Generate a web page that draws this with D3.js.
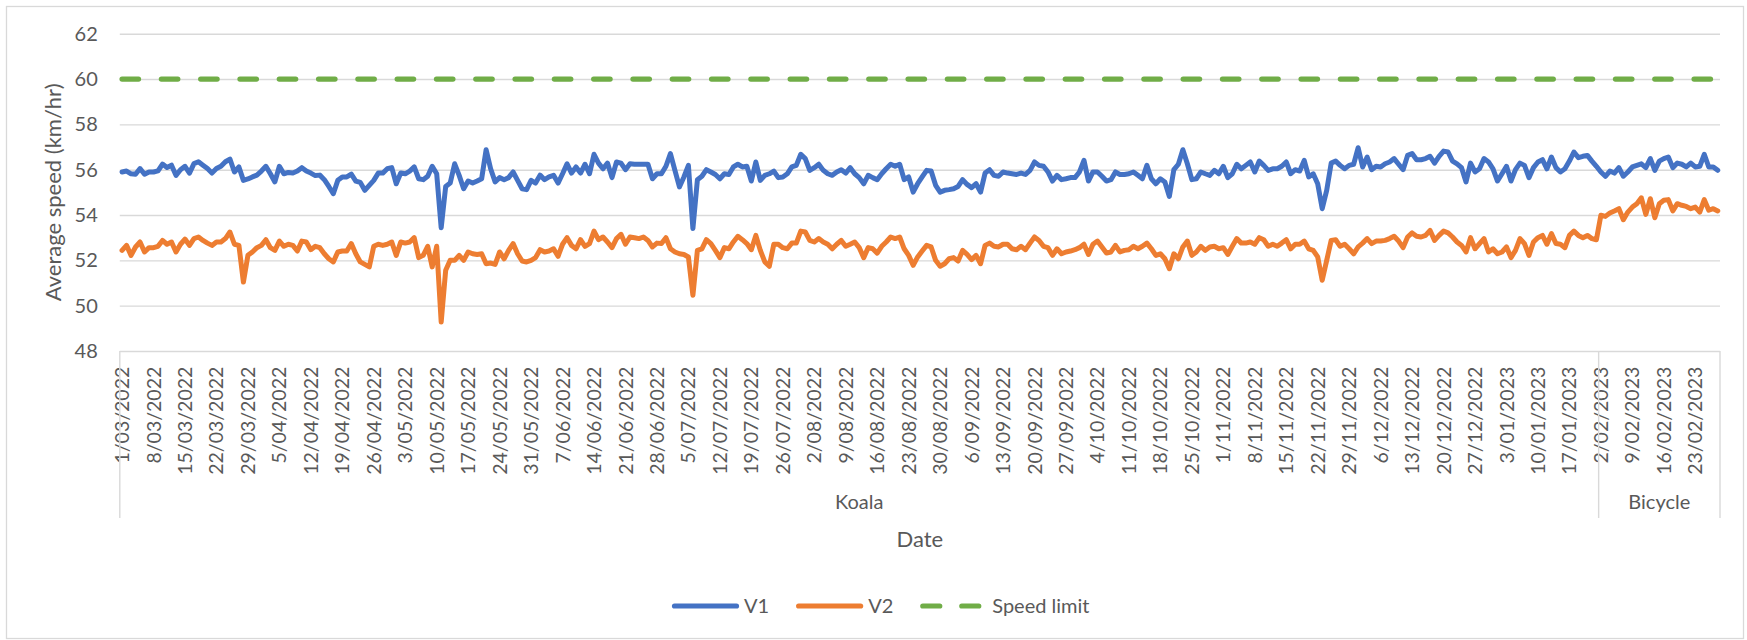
<!DOCTYPE html>
<html>
<head>
<meta charset="utf-8">
<script src="https://cdn.jsdelivr.net/npm/d3@7"></script>
<style>
  html, body { margin: 0; padding: 0; background: #fff; }
  svg text { font-family: Lato, "Open Sans", sans-serif; fill: #595959; }
</style>
</head>
<body>
<div id="chart"></div>
<script>
// Category groups (multi-level axis): one day per category
const groupNames = ["Koala", "Bicycle"];
const groupStarts = ["2022-03-01", "2023-02-02"];
const groupEnds = ["2023-01-23", "2023-02-28"];

const yTicks = [48, 50, 52, 54, 56, 58, 60, 62];
const speedLimit = 60;
const labelEvery = 7;

// Average speed, km/hr, one value per day
const v1 = [
  55.9, 55.94, 55.82, 55.8, 56.05, 55.8, 55.9, 55.9, 55.95, 56.25,
  56.1, 56.2, 55.75, 56.0, 56.15, 55.85, 56.27, 56.35, 56.2, 56.05,
  55.85, 56.05, 56.15, 56.35, 56.47, 55.9, 56.12, 55.53, 55.59, 55.68,
  55.76, 55.94, 56.15, 55.82, 55.46, 56.15, 55.82, 55.88, 55.85, 55.94,
  56.09, 55.94, 55.85, 55.74, 55.76, 55.56, 55.26, 54.94, 55.53, 55.68,
  55.68, 55.8, 55.5, 55.44, 55.09, 55.31, 55.53, 55.85, 55.85, 56.04,
  56.09, 55.38, 55.85, 55.82, 55.94, 56.12, 55.6, 55.56, 55.71, 56.15,
  55.82, 53.44, 55.26, 55.41, 56.26, 55.75, 55.16, 55.5, 55.41, 55.5,
  55.6, 56.88, 56.04, 55.46, 55.65, 55.56, 55.65, 55.9, 55.53, 55.16,
  55.12, 55.53, 55.41, 55.76, 55.56, 55.68, 55.75, 55.41, 55.82, 56.26,
  55.85, 56.12, 55.85, 56.24, 55.82, 56.68, 56.29, 56.04, 56.29, 55.65,
  56.34, 56.29, 56.0, 56.26, 56.24, 56.24, 56.24, 56.24, 55.6, 55.82,
  55.82, 56.15, 56.71, 55.97, 55.24, 55.68, 56.19, 53.4, 55.56, 55.71,
  56.0, 55.9, 55.79, 55.6, 55.82, 55.79, 56.12, 56.24, 56.12, 56.15,
  55.5, 56.34, 55.53, 55.75, 55.82, 55.94, 55.65, 55.68, 55.82, 56.12,
  56.19, 56.68, 56.49, 55.97, 56.09, 56.24, 55.97, 55.82, 55.75, 55.9,
  56.0, 55.85, 56.09, 55.82, 55.65, 55.38, 55.75, 55.65, 55.56, 55.82,
  56.04, 56.24, 56.15, 56.24, 55.56, 55.68, 55.01, 55.38, 55.68, 55.97,
  55.94, 55.31, 55.01, 55.09, 55.12, 55.16, 55.26, 55.56, 55.35, 55.21,
  55.38, 55.01, 55.85, 56.0, 55.75, 55.71, 55.9, 55.85, 55.82, 55.79,
  55.85, 55.79, 55.97, 56.34, 56.19, 56.15, 55.9, 55.5, 55.75, 55.56,
  55.6, 55.65, 55.65, 55.9, 56.41, 55.5, 55.9, 55.9, 55.71, 55.5,
  55.56, 55.9, 55.79, 55.79, 55.82, 55.9, 55.75, 55.6, 56.19, 55.6,
  55.38, 55.6, 55.46, 54.82, 56.0, 56.24, 56.88, 56.26, 55.56, 55.6,
  55.9, 55.82, 55.75, 55.97, 55.82, 56.15, 55.65, 55.82, 56.24, 56.04,
  56.19, 56.34, 55.9, 56.38, 56.19, 55.97, 56.04, 56.04, 56.15, 56.34,
  55.82, 56.0, 55.94, 56.41, 55.68, 55.82, 55.38, 54.28, 55.09, 56.29,
  56.38, 56.19, 56.04, 56.19, 56.24, 56.97, 56.12, 56.56, 56.0, 56.15,
  56.12, 56.26, 56.34, 56.49, 56.24, 56.0, 56.63, 56.71, 56.44, 56.44,
  56.49, 56.59, 56.29, 56.59, 56.82, 56.78, 56.38, 56.26, 56.09, 55.46,
  56.29, 55.9, 56.04, 56.49, 56.34, 56.04, 55.5, 55.82, 56.15, 55.5,
  56.0, 56.29, 56.19, 55.65, 56.09, 56.34, 56.44, 56.04, 56.56, 56.09,
  55.9, 56.04, 56.38, 56.78, 56.53, 56.59, 56.63, 56.38, 56.15, 55.9,
  55.71, 55.94, 55.85, 56.09, 55.71, 55.9, 56.12, 56.19, 56.26, 56.09,
  56.49, 55.97, 56.38, 56.49, 56.56, 56.09, 56.29, 56.24, 56.12, 56.29,
  56.12, 56.15, 56.68, 56.12, 56.12, 55.97
];

const v2 = [
  52.44, 52.66, 52.22, 52.59, 52.81, 52.37, 52.56, 52.56, 52.62, 52.88,
  52.71, 52.81, 52.37, 52.71, 52.94, 52.66, 52.96, 53.03, 52.88, 52.76,
  52.66, 52.81, 52.81, 52.96, 53.25, 52.71, 52.66, 51.04, 52.22, 52.37,
  52.56, 52.66, 52.91, 52.56, 52.44, 52.85, 52.62, 52.71, 52.66, 52.41,
  52.85, 52.81, 52.47, 52.62, 52.56, 52.29, 52.07, 51.93, 52.37, 52.41,
  52.41, 52.74, 52.29, 51.93, 51.82, 51.71, 52.62, 52.71, 52.66, 52.71,
  52.81, 52.22, 52.81, 52.76, 52.81, 53.0, 52.12, 52.22, 52.62, 51.71,
  52.62, 49.28, 51.56, 52.0, 52.0, 52.22, 52.0, 52.37, 52.29, 52.26,
  52.29, 51.85, 51.88, 51.82, 52.37, 52.07, 52.44, 52.74, 52.29, 51.97,
  51.93, 52.0, 52.12, 52.47, 52.37, 52.41, 52.51, 52.18, 52.71, 53.0,
  52.66, 52.51, 52.91, 52.62, 52.74, 53.29, 52.91, 53.03, 52.81, 52.56,
  52.96, 53.15, 52.71, 53.03, 53.0, 52.96, 53.03, 52.88, 52.59, 52.76,
  52.74, 53.0, 52.51, 52.37, 52.29, 52.26, 52.15, 50.46, 52.44, 52.51,
  52.91, 52.74, 52.44, 52.12, 52.56, 52.51, 52.81, 53.06, 52.91, 52.74,
  52.47, 53.1, 52.44, 51.93, 51.74, 52.71, 52.71, 52.56, 52.51, 52.76,
  52.76, 53.29, 53.25, 52.88, 52.81, 52.96, 52.81, 52.71, 52.51, 52.71,
  52.88, 52.62, 52.71, 52.81, 52.56, 52.12, 52.56, 52.51, 52.32, 52.62,
  52.81, 53.03, 52.96, 53.03, 52.51, 52.22, 51.78, 52.15, 52.41, 52.66,
  52.59, 52.0, 51.74, 51.85, 52.07, 52.12, 51.97, 52.44, 52.26, 52.03,
  52.22, 51.85, 52.66, 52.76, 52.62, 52.59, 52.71, 52.71, 52.51, 52.47,
  52.62, 52.47, 52.76, 53.03, 52.88, 52.62, 52.56, 52.22, 52.51, 52.29,
  52.37, 52.41, 52.47, 52.56, 52.71, 52.26, 52.71, 52.85, 52.59, 52.32,
  52.37, 52.66, 52.37, 52.44, 52.47, 52.62, 52.51, 52.62, 52.76, 52.51,
  52.22, 52.29, 52.07, 51.63, 52.29, 52.07, 52.59, 52.85, 52.22, 52.37,
  52.62, 52.44, 52.59, 52.62, 52.51, 52.56, 52.26, 52.62, 52.96, 52.76,
  52.76, 52.81, 52.71, 53.0, 52.91, 52.62, 52.71, 52.62, 52.76, 52.91,
  52.51, 52.71, 52.71, 52.85, 52.51, 52.44, 52.15, 51.12, 52.0, 52.88,
  52.91, 52.62, 52.71, 52.51, 52.29, 52.59, 52.76, 52.96, 52.74, 52.85,
  52.85, 52.88, 52.96, 53.06, 52.85, 52.56, 53.03, 53.21, 53.06, 53.03,
  53.1, 53.32, 52.88, 53.1, 53.29, 53.21, 53.03, 52.81, 52.66, 52.37,
  53.0, 52.51, 52.74, 52.96, 52.37, 52.51, 52.29, 52.37, 52.59, 52.12,
  52.44, 52.96, 52.74, 52.22, 52.81, 53.0, 53.1, 52.71, 53.18, 52.74,
  52.71, 52.56, 53.1, 53.29, 53.1, 53.0, 53.1, 52.96, 52.91, 53.99,
  53.94, 54.09, 54.18, 54.28, 53.79, 54.13, 54.35, 54.5, 54.76, 54.03,
  54.72, 53.88, 54.5, 54.65, 54.68, 54.18, 54.5, 54.43, 54.38, 54.28,
  54.35, 54.13, 54.68, 54.21, 54.28, 54.18
];

const seriesNames = ["V1", "V2", "Speed limit"];
const seriesColors = ["#4472C4", "#ED7D31", "#70AD47"];

// Build the category list (dates with their group)
const parseDay = d3.utcParse("%Y-%m-%d");
const fmtDay = d3.utcFormat("%-d/%m/%Y");
const categories = [];
const groups = [];
groupNames.forEach((name, gi) => {
    const days = d3.utcDay.range(parseDay(groupStarts[gi]), d3.utcDay.offset(parseDay(groupEnds[gi]), 1));
    groups.push({ name: name, first: categories.length, count: days.length });
    days.forEach(d => categories.push({ date: d, group: name }));
});

const width = 1747, height = 640;
const plot = { left: 119.8, right: 1720, top: 33.7, bottom: 351 };
const sepBottom = 518;
const textColor = "#595959";
const gridColor = "#d9d9d9";

const svg = d3.select("#chart").append("svg")
    .attr("width", width)
    .attr("height", height);

// chart border
svg.append("rect")
    .attr("x", 6.5).attr("y", 6.5)
    .attr("width", 1737).attr("height", 632)
    .attr("fill", "none")
    .attr("stroke", gridColor)
    .attr("stroke-width", 1.3);

const x = d3.scaleBand()
    .domain(d3.range(categories.length))
    .range([plot.left, plot.right]);
const cx = i => x(i) + x.bandwidth() / 2;

const y = d3.scaleLinear()
    .domain([d3.min(yTicks), d3.max(yTicks)])
    .range([plot.bottom, plot.top]);

// y axis with gridlines
const yAxis = svg.append("g")
    .attr("transform", `translate(${plot.left},0)`)
    .call(d3.axisLeft(y)
        .tickValues(yTicks)
        .tickSize(-(plot.right - plot.left))
        .tickPadding(22));
yAxis.select(".domain").remove();
yAxis.selectAll(".tick line")
    .attr("stroke", gridColor)
    .attr("stroke-width", 1.4);
yAxis.selectAll(".tick text")
    .style("font-size", "20px")
    .style("font-family", "Lato, 'Open Sans', sans-serif")
    .attr("fill", textColor);

// x axis: date labels every 7th category
const labelIdx = d3.range(categories.length).filter(i => i % labelEvery === 0);
const xAxis = svg.append("g")
    .attr("transform", `translate(0,${plot.bottom})`)
    .call(d3.axisBottom(x)
        .tickValues(labelIdx)
        .tickFormat(i => fmtDay(categories[i].date))
        .tickSize(0));
xAxis.select(".domain").remove();
xAxis.selectAll(".tick text")
    .attr("transform", "rotate(-90)")
    .attr("text-anchor", "end")
    .attr("x", -15.7)
    .attr("y", 0)
    .attr("dy", "0.36em")
    .style("font-size", "19.5px")
    .style("font-family", "Lato, 'Open Sans', sans-serif")
    .attr("fill", textColor);

// group separators and group labels
const sepX = groups.map(g => x(g.first)).concat([plot.right]);
svg.append("g").selectAll("line")
    .data(sepX)
    .join("line")
    .attr("x1", d => d).attr("x2", d => d)
    .attr("y1", plot.bottom).attr("y2", sepBottom)
    .attr("stroke", gridColor)
    .attr("stroke-width", 1.4);

svg.append("g").selectAll("text")
    .data(groups)
    .join("text")
    .attr("x", g => (x(g.first) + x(g.first + g.count - 1) + x.bandwidth()) / 2)
    .attr("y", 509)
    .attr("text-anchor", "middle")
    .style("font-size", "20px")
    .text(g => g.name);

// axis titles
svg.append("text")
    .attr("x", (plot.left + plot.right) / 2)
    .attr("y", 547)
    .attr("text-anchor", "middle")
    .style("font-size", "22px")
    .text("Date");

svg.append("text")
    .attr("transform", `translate(53.6,${(plot.top + plot.bottom) / 2}) rotate(-90)`)
    .attr("text-anchor", "middle")
    .attr("dy", "0.35em")
    .style("font-size", "22px")
    .text("Average speed (km/hr)");

// series lines
const line = d3.line()
    .x((d, i) => cx(i))
    .y(d => y(d));

const limitValues = categories.map(() => speedLimit);

const lines = svg.append("g").attr("fill", "none")
    .attr("stroke-linejoin", "round");

lines.append("path")
    .datum(limitValues)
    .attr("d", line)
    .attr("stroke", seriesColors[2])
    .attr("stroke-width", 5.2)
    .attr("stroke-linecap", "round")
    .attr("stroke-dasharray", "16.5,22.8");

lines.append("path")
    .datum(v2)
    .attr("d", line)
    .attr("stroke", seriesColors[1])
    .attr("stroke-width", 5)
    .attr("stroke-linecap", "round");

lines.append("path")
    .datum(v1)
    .attr("d", line)
    .attr("stroke", seriesColors[0])
    .attr("stroke-width", 5)
    .attr("stroke-linecap", "round");

// legend
const legendY = 606;
const legend = svg.append("g");
let lx = 672;
seriesNames.forEach((name, i) => {
    const item = legend.append("g");
    item.append("line")
        .attr("x1", lx + 2.5).attr("x2", lx + 64.5)
        .attr("y1", legendY).attr("y2", legendY)
        .attr("stroke", seriesColors[i])
        .attr("stroke-width", 5.2)
        .attr("stroke-linecap", "round")
        .attr("stroke-dasharray", i === 2 ? "17,22" : null);
    const t = item.append("text")
        .attr("x", lx + 72)
        .attr("y", legendY)
        .attr("dy", "0.35em")
        .style("font-size", "20px")
        .text(name);
    lx = lx + 72 + t.node().getComputedTextLength() + 27;
});
</script>
</body>
</html>
